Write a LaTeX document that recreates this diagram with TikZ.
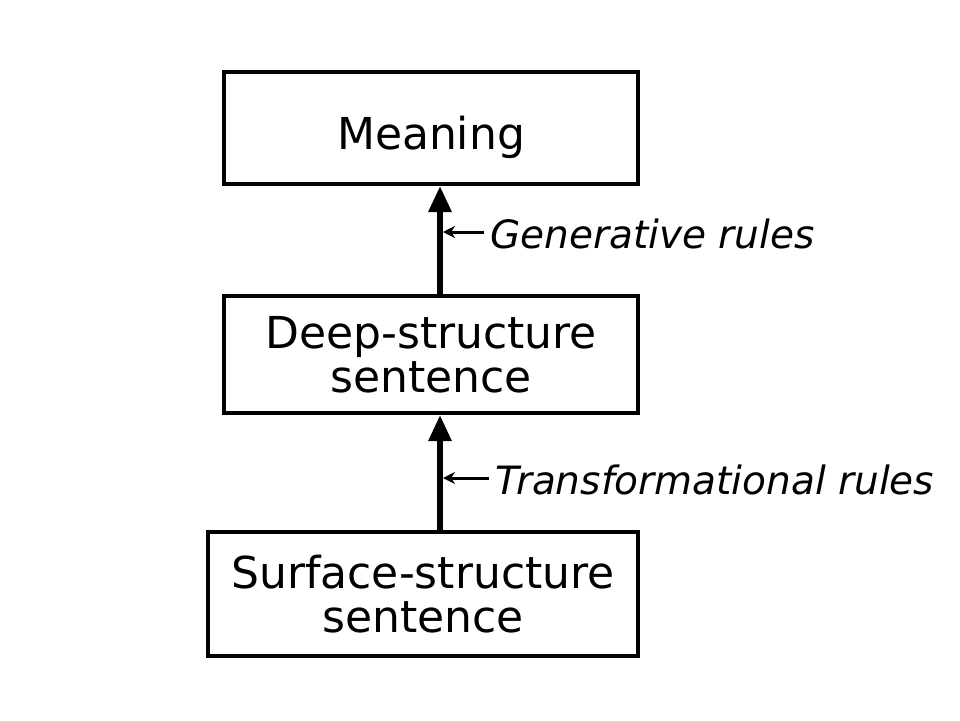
\documentclass[tikz,border=0pt]{standalone}
\usepackage{fontspec}
\setmainfont{DejaVu Sans}
\usetikzlibrary{arrows.meta}
\begin{document}
\begin{tikzpicture}[x=1pt,y=-1pt,
  box/.style={draw,line width=4pt,inner sep=0pt,align=center,font=\fontsize{44}{44}\selectfont},
  lbl/.style={anchor=west,inner sep=0pt,font=\itshape\fontsize{39}{40}\selectfont},
  bigarrow/.style={line width=6pt,-{Triangle[length=26pt,width=22pt]}},
  smallarrow/.style={line width=3pt,-{Stealth[length=12pt,width=12pt]}}]
\useasboundingbox (0,0) rectangle (960,720);
\node[box,minimum width=414pt,minimum height=112pt,text height=42pt,text depth=0pt] (m) at (431,128) {Meaning};
\node[box,minimum width=414pt,minimum height=117pt] (d) at (431,354.5) {Deep-structure\\sentence};
\node[box,minimum width=430pt,minimum height=124pt] (s) at (423,594) {Surface-structure\\sentence};
\draw[bigarrow] (d.north -| 440,0) -- (m.south -| 440,0);
\draw[bigarrow] (s.north -| 440,0) -- (d.south -| 440,0);
\node[lbl] (g) at (490,234) {Generative rules};
\node[lbl] (t) at (495,480) {Transformational rules};
\coordinate (ga) at (443,232);
\coordinate (ta) at (443,478);
\draw[smallarrow] (g.west |- ga) ++(-6,0) -- (ga);
\draw[smallarrow] (t.west |- ta) ++(-6,0) -- (ta);
\end{tikzpicture}
\end{document}
